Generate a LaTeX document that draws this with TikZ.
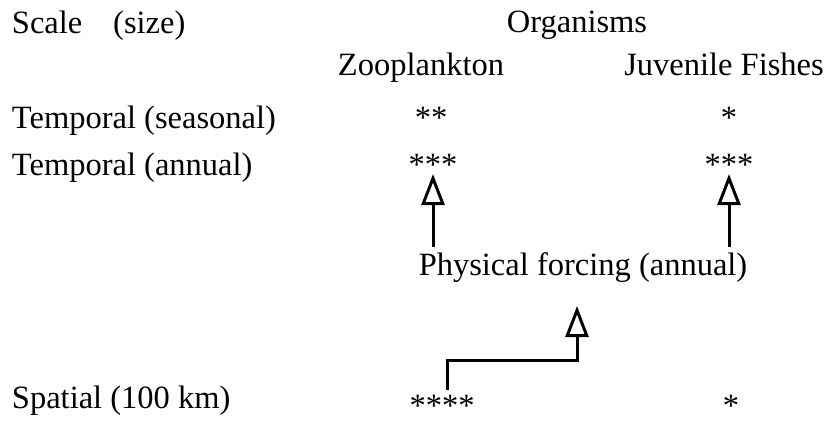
\documentclass[tikz,border=0pt]{standalone}
\usepackage{fontspec}
\setmainfont{Liberation Serif}
\usetikzlibrary{arrows.meta}
\tikzset{
  lbl/.style={inner sep=0pt, outer sep=0pt, font=\fontsize{32.5}{39}\selectfont},
  arr/.style={line width=3pt, line join=miter, -{Triangle[open, length=31pt, width=23pt, line width=3pt]}}
}
\begin{document}
\begin{tikzpicture}[x=1pt, y=-1pt]
\useasboundingbox (0,0) rectangle (827,432);
% row headers
\node[lbl, anchor=base west] (scale) at (12,33) {Scale\hspace{0.95em}(size)};
\node[lbl, anchor=base] (org) at (577,32) {Organisms};
\node[lbl, anchor=base] (zoo) at (421,75) {Zooplankton};
\node[lbl, anchor=base] (juv) at (724,75) {Juvenile Fishes};
\node[lbl, anchor=base west] (seas) at (12,128) {Temporal (seasonal)};
\node[lbl, anchor=base west] (ann) at (12,175) {Temporal (annual)};
\node[lbl, anchor=base west] (spat) at (12,408) {Spatial (100 km)};
% ratings
\node[lbl, anchor=base] (s1) at (431,128) {**};
\node[lbl, anchor=base] (s2) at (729,128) {*};
\node[lbl, anchor=base] (a1) at (433,175) {***};
\node[lbl, anchor=base] (a2) at (729,175) {***};
\node[lbl, anchor=base] (sp1) at (442,416) {****};
\node[lbl, anchor=base] (sp2) at (731,416) {*};
\node[lbl, anchor=base] (phys) at (583,275) {Physical forcing (annual)};
% connectors
\coordinate (bend) at (577,360);
\coordinate (ptip) at (577,306);
\draw[arr] ([yshift=5pt]phys.north -| a1.south) -- ([yshift=1pt]a1.south);
\draw[arr] ([yshift=5pt]phys.north -| a2.south) -- ([yshift=1pt]a2.south);
\draw[arr] ([xshift=5pt,yshift=5pt]sp1.north) |- (bend) -- (ptip);
\end{tikzpicture}
\end{document}
